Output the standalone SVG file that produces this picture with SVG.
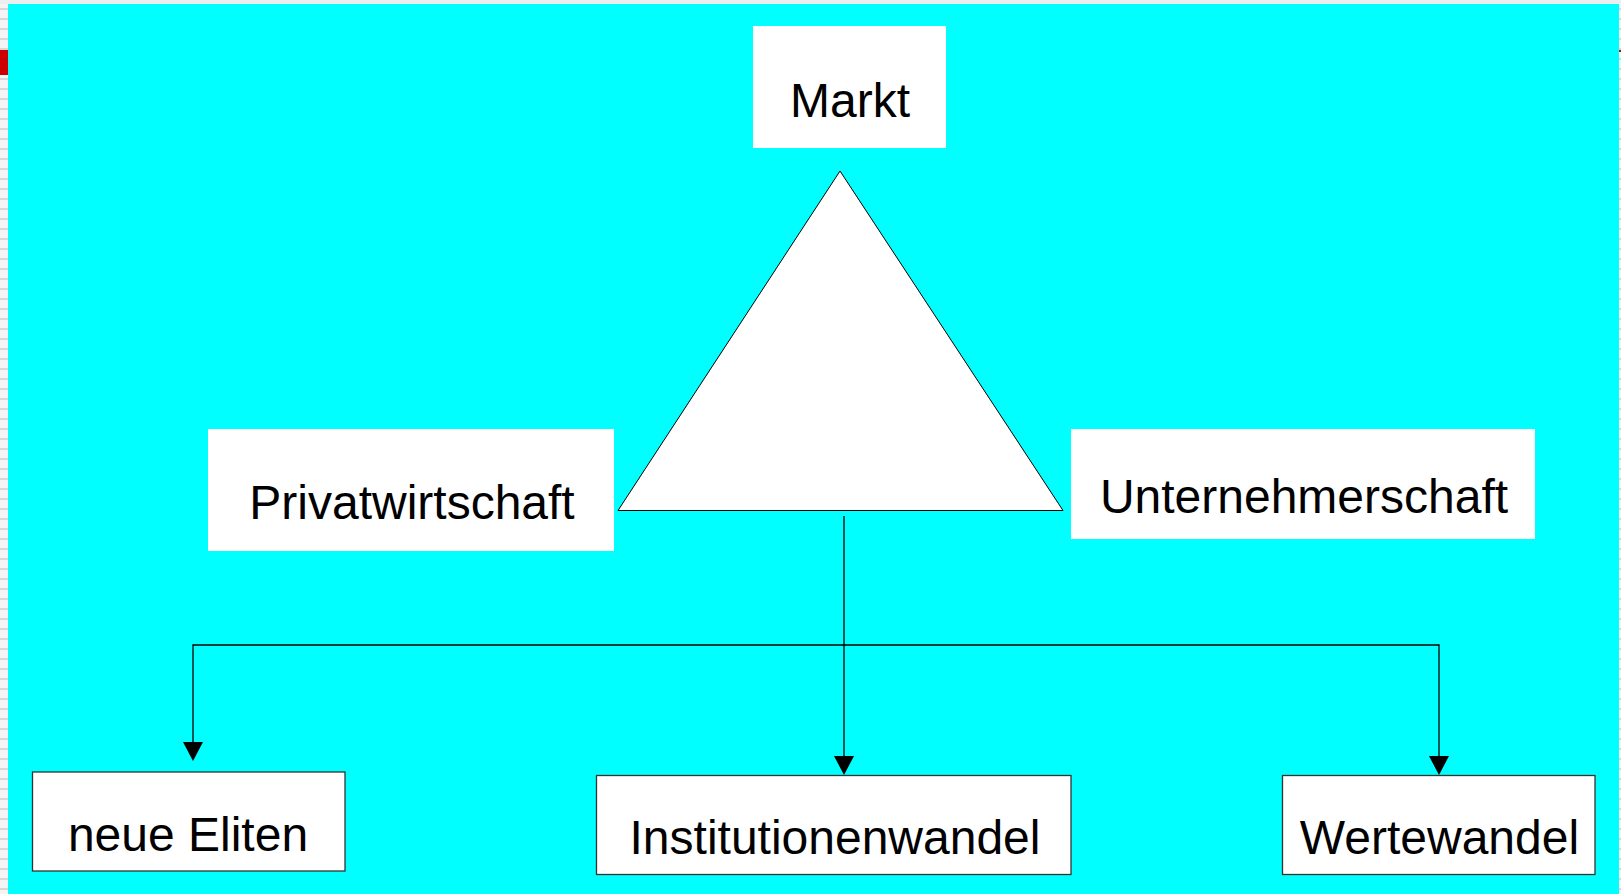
<svg xmlns="http://www.w3.org/2000/svg" width="1621" height="894" viewBox="0 0 1621 894">
  <defs>
    <style>
      .box { fill: #ffffff; stroke: none; }
      .obox { fill: #ffffff; stroke: #333333; stroke-width: 1.3; }
      .lbl { font-family: "Liberation Sans", Arial, sans-serif; font-size: 48px; fill: #000000; text-anchor: middle; }
      .conn { fill: none; stroke: #000000; stroke-width: 1.3; }
    </style>
    <pattern id="stripes" x="0" y="0" width="10" height="10" patternUnits="userSpaceOnUse">
      <rect width="10" height="10" fill="#f4f4f4"/>
      <rect y="8" width="10" height="2" fill="#d6d6d6"/>
    </pattern>
    <marker id="arrow" viewBox="0 0 20 19" refX="10" refY="19" markerWidth="20" markerHeight="19" markerUnits="userSpaceOnUse" orient="auto-start-reverse">
      <path d="M0,0 L20,0 L10,19 Z" fill="#000000"/>
    </marker>
  </defs>

  <!-- page frame -->
  <rect x="0" y="0" width="1621" height="894" fill="url(#stripes)"/>
  <rect x="0" y="0" width="1621" height="4" fill="#eeeeee"/>
  <rect x="0" y="50" width="8" height="25" fill="#cc0000"/>
  <rect x="1619" y="50" width="2" height="2" fill="#cc0000"/>
  <rect x="8" y="4" width="1611" height="890" fill="#00ffff"/>

  <g id="triangle">
    <polygon points="840,171 618,510.5 1063,510.5" fill="#ffffff" stroke="#000000" stroke-width="1"/>
  </g>

  <g id="connectors">
    <line class="conn" x1="844" y1="516" x2="844" y2="756"/>
    <polyline class="conn" points="193,742 193,645 1439,645 1439,756"/>
    <path d="M834,756 L854,756 L844,775 Z" fill="#000000"/>
    <path d="M183,742 L203,742 L193,761 Z" fill="#000000"/>
    <path d="M1429,756 L1449,756 L1439,775 Z" fill="#000000"/>
  </g>

  <g id="markt">
    <rect class="box" x="753" y="26" width="193" height="122"/>
    <text class="lbl" x="850" y="117">Markt</text>
  </g>

  <g id="privatwirtschaft">
    <rect class="box" x="208" y="429" width="406" height="122"/>
    <text class="lbl" x="412" y="519">Privatwirtschaft</text>
  </g>

  <g id="unternehmerschaft">
    <rect class="box" x="1071" y="429" width="464" height="110"/>
    <text class="lbl" x="1304" y="513">Unternehmerschaft</text>
  </g>

  <g id="neue-eliten">
    <rect class="obox" x="32.5" y="772" width="312.5" height="99"/>
    <text class="lbl" x="188" y="851">neue Eliten</text>
  </g>

  <g id="institutionenwandel">
    <rect class="obox" x="596.5" y="775.5" width="474.5" height="99"/>
    <text class="lbl" x="835" y="854">Institutionenwandel</text>
  </g>

  <g id="wertewandel">
    <rect class="obox" x="1282.5" y="775.5" width="312.5" height="99"/>
    <text class="lbl" x="1439.5" y="854">Wertewandel</text>
  </g>
</svg>
